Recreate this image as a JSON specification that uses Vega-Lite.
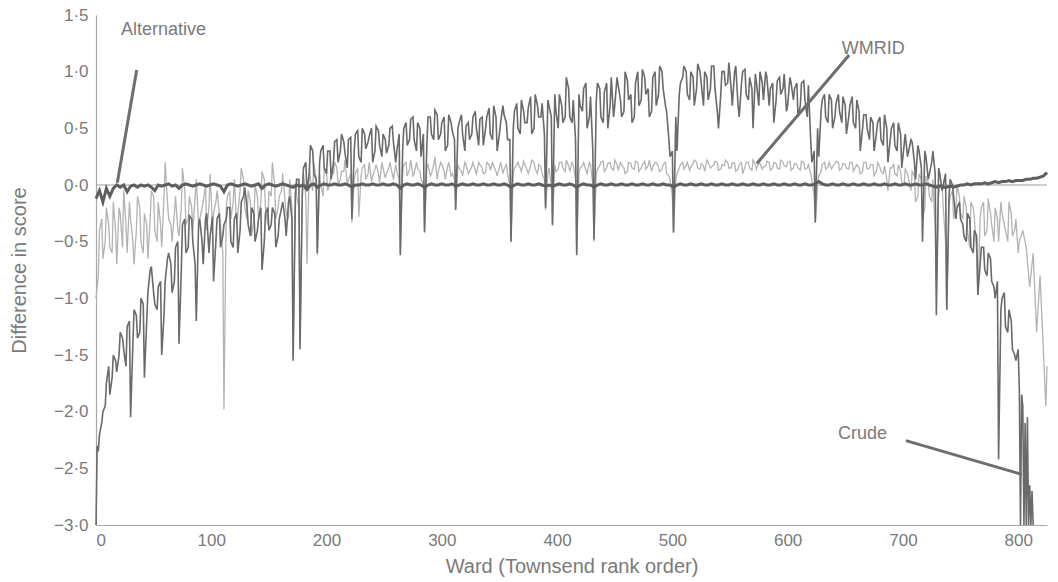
{
"$schema": "https://vega.github.io/schema/vega-lite/v6.json",
"width": 951, "height": 510,
"autosize": {"type": "none"},
"padding": {"left": 96, "top": 15, "right": 11, "bottom": 57},
"background": "white",
"config": {"view": {"stroke": null}, "font": "Liberation Sans",
 "axis": {"grid": false, "ticks": false, "domainColor": "#a8a8a8", "domainWidth": 1.2, "labelColor": "#7a7a7a", "labelFontSize": 17, "titleColor": "#7a7a7a", "titleFontSize": 20, "titleFontWeight": "normal", "labelFont": "Liberation Sans", "titleFont": "Liberation Sans"}},
"datasets": {
"series": [
{"w":0,"c":-3.0,"m":-1.0,"a":-0.12},{"w":1,"c":-2.3},
{"w":3,"c":-2.2,"m":-0.4,"a":-0.05},{"w":6,"c":-2.0,"m":-0.65,"a":-0.15},{"w":9,"c":-1.75,"m":-0.2,"a":-0.03},{"w":12,"c":-1.85,"m":-0.55,"a":-0.1},{"w":15,"c":-1.5,"m":-0.15,"a":-0.03},{"w":18,"c":-1.65,"m":-0.7,"a":0.0},{"w":21,"c":-1.3,"m":-0.25,"a":-0.02},{"w":24,"c":-1.45,"m":-0.05,"a":0.0},{"w":27,"c":-1.25,"m":-0.6,"a":-0.06},
{"w":30,"c":-2.05,"m":-0.3,"a":-0.01},{"w":33,"c":-1.1,"m":-0.7,"a":0.0},{"w":36,"c":-1.35,"m":-0.1,"a":-0.02},{"w":39,"c":-1.0,"m":-0.5,"a":0.0},{"w":42,"c":-1.7,"m":-0.25,"a":-0.01},{"w":45,"c":-0.95,"m":-0.65,"a":0.0},{"w":48,"c":-0.72,"m":-0.05,"a":-0.02},{"w":51,"c":-1.05,"m":-0.4,"a":-0.05},{"w":54,"c":-0.9,"m":-0.15,"a":0.0},{"w":57,"c":-1.5,"m":-0.55,"a":-0.01},
{"w":60,"c":-0.85,"m":0.2,"a":0.0},{"w":63,"c":-0.6,"m":-0.3,"a":0.01},{"w":66,"c":-0.95,"m":-0.5,"a":-0.01},{"w":69,"c":-0.55,"m":-0.1,"a":0.0},{"w":72,"c":-1.4,"m":-0.45,"a":-0.03},{"w":75,"c":-0.35,"m":0.15,"a":0.0},{"w":78,"c":-0.6,"m":-0.35,"a":0.01},{"w":81,"c":-0.27,"m":-0.1,"a":0.0},{"w":84,"c":-0.5,"m":-0.4,"a":-0.01},{"w":87,"c":-1.2,"m":0.05,"a":0.0},
{"w":90,"c":-0.3,"m":-0.3,"a":0.01},{"w":93,"c":-0.7,"m":-0.15,"a":0.0},{"w":96,"c":-0.25,"m":-0.4,"a":-0.01},{"w":99,"c":-0.45,"m":0.1,"a":0.0},{"w":102,"c":-0.85,"m":-0.25,"a":0.01},{"w":105,"c":-0.3,"m":-0.05,"a":0.0},{"w":108,"c":-0.55,"m":-0.35,"a":-0.01},{"w":111,"c":-0.35,"m":-1.98,"a":-0.06},{"w":114,"c":-0.2,"m":-0.1,"a":0.0},{"w":117,"c":-0.5,"m":-0.3,"a":0.01},
{"w":120,"c":-0.3,"m":0.05,"a":0.0},{"w":123,"c":-0.6,"m":-0.25,"a":-0.01},{"w":126,"c":-0.15,"m":0.15,"a":0.0},{"w":129,"c":-0.02,"m":-0.2,"a":0.01},{"w":132,"c":-0.35,"m":-0.05,"a":0.0},{"w":135,"c":-0.2,"m":-0.45,"a":-0.01},{"w":138,"c":-0.5,"m":0.0,"a":0.0},{"w":141,"c":-0.3,"m":-0.3,"a":0.01},{"w":144,"c":-0.75,"m":0.12,"a":-0.03},{"w":147,"c":-0.25,"m":-0.2,"a":0.0},
{"w":150,"c":-0.4,"m":-0.05,"a":0.01},{"w":153,"c":-0.2,"m":0.2,"a":0.0},{"w":156,"c":-0.55,"m":-0.3,"a":-0.01},{"w":159,"c":-0.3,"m":-0.1,"a":0.0},{"w":162,"c":-0.15,"m":0.1,"a":0.01},{"w":165,"c":-0.45,"m":-0.25,"a":0.0},{"w":168,"c":-0.1,"m":0.05,"a":-0.01},{"w":171,"c":-1.55,"m":-1.5,"a":-0.02},{"w":174,"c":0.05,"m":-0.1,"a":0.0},{"w":177,"c":-1.45,"m":-1.4,"a":-0.01},
{"w":180,"c":0.15,"m":0.1,"a":0.0},{"w":183,"c":-0.05,"m":-0.7,"a":-0.04},{"w":186,"c":0.35,"m":0.05,"a":0.0},{"w":189,"c":0.1,"m":0.2,"a":0.01},{"w":192,"c":-0.6,"m":-0.62,"a":-0.02},{"w":195,"c":0.3,"m":0.0,"a":0.0},{"w":198,"c":0.15,"m":0.15,"a":0.01},{"w":201,"c":0.3,"m":-0.05,"a":0.0},{"w":204,"c":0.05,"m":0.1,"a":0.0},{"w":207,"c":0.38,"m":0.2,"a":0.01},
{"w":210,"c":0.2,"m":0.0,"a":0.0},{"w":213,"c":0.45,"m":0.12,"a":0.0},{"w":216,"c":0.28,"m":0.22,"a":0.01},{"w":219,"c":0.4,"m":0.05,"a":0.0},{"w":222,"c":-0.3,"m":-0.33,"a":-0.02},{"w":225,"c":0.45,"m":0.1,"a":0.0},{"w":228,"c":0.25,"m":-0.28,"a":0.0},{"w":231,"c":0.5,"m":0.15,"a":0.01},{"w":234,"c":0.32,"m":0.05,"a":0.0},{"w":237,"c":0.43,"m":0.2,"a":0.0},
{"w":240,"c":0.2,"m":0.08,"a":0.01},{"w":243,"c":0.52,"m":0.18,"a":0.0},{"w":246,"c":0.35,"m":0.02,"a":0.0},{"w":249,"c":0.45,"m":0.15,"a":0.01},{"w":252,"c":0.28,"m":0.1,"a":0.0},{"w":255,"c":0.5,"m":0.2,"a":0.0},{"w":258,"c":0.38,"m":0.05,"a":0.01},{"w":261,"c":0.3,"m":0.12,"a":0.0},{"w":264,"c":-0.62,"m":-0.6,"a":-0.03},{"w":267,"c":0.5,"m":0.18,"a":0.0},
{"w":270,"c":0.35,"m":0.08,"a":0.01},{"w":273,"c":0.58,"m":0.22,"a":0.0},{"w":276,"c":0.4,"m":0.1,"a":0.0},{"w":279,"c":0.55,"m":0.15,"a":0.01},{"w":282,"c":0.25,"m":0.05,"a":0.0},{"w":285,"c":-0.42,"m":-0.4,"a":-0.02},{"w":288,"c":0.6,"m":0.18,"a":0.0},{"w":291,"c":0.45,"m":0.1,"a":0.01},{"w":294,"c":0.66,"m":0.25,"a":0.0},{"w":297,"c":0.4,"m":0.12,"a":0.0},
{"w":300,"c":0.55,"m":0.18,"a":0.01},{"w":303,"c":0.3,"m":0.05,"a":0.0},{"w":306,"c":0.62,"m":0.2,"a":0.0},{"w":309,"c":0.48,"m":0.1,"a":0.01},{"w":312,"c":-0.22,"m":-0.2,"a":-0.01},{"w":315,"c":0.55,"m":0.15,"a":0.0},{"w":318,"c":0.45,"m":0.08,"a":0.01},{"w":321,"c":0.52,"m":0.18,"a":0.0},{"w":324,"c":0.4,"m":0.12,"a":0.0},{"w":327,"c":0.6,"m":0.2,"a":0.01},
{"w":330,"c":0.5,"m":0.1,"a":0.0},{"w":333,"c":0.58,"m":0.18,"a":0.0},{"w":336,"c":0.35,"m":0.1,"a":0.01},{"w":339,"c":0.6,"m":0.2,"a":0.0},{"w":342,"c":0.45,"m":0.13,"a":0.0},{"w":345,"c":0.7,"m":0.17,"a":0.01},{"w":348,"c":0.3,"m":0.08,"a":0.0},{"w":351,"c":0.55,"m":0.2,"a":0.0},{"w":354,"c":0.62,"m":0.14,"a":0.01},{"w":357,"c":0.4,"m":0.1,"a":0.0},
{"w":360,"c":-0.5,"m":-0.5,"a":-0.02},{"w":363,"c":0.65,"m":0.15,"a":0.0},{"w":366,"c":0.5,"m":0.2,"a":0.01},{"w":369,"c":0.75,"m":0.12,"a":0.0},{"w":372,"c":0.55,"m":0.18,"a":0.0},{"w":375,"c":0.68,"m":0.1,"a":0.01},{"w":378,"c":0.45,"m":0.22,"a":0.0},{"w":381,"c":0.8,"m":0.14,"a":0.0},{"w":384,"c":0.6,"m":0.18,"a":0.01},{"w":387,"c":0.72,"m":0.1,"a":0.0},
{"w":390,"c":-0.2,"m":-0.22,"a":-0.01},{"w":393,"c":0.7,"m":0.15,"a":0.0},{"w":396,"c":-0.35,"m":-0.36,"a":-0.01},{"w":399,"c":0.65,"m":0.12,"a":0.0},{"w":402,"c":0.8,"m":0.2,"a":0.01},{"w":405,"c":0.55,"m":0.15,"a":0.0},{"w":408,"c":0.95,"m":0.22,"a":0.0},{"w":411,"c":0.6,"m":0.12,"a":0.01},{"w":414,"c":0.75,"m":0.18,"a":0.0},{"w":417,"c":-0.62,"m":-0.6,"a":-0.02},
{"w":420,"c":0.7,"m":0.15,"a":0.0},{"w":423,"c":0.85,"m":0.2,"a":0.01},{"w":426,"c":0.5,"m":0.1,"a":0.0},{"w":429,"c":0.78,"m":0.18,"a":0.0},{"w":432,"c":-0.48,"m":-0.5,"a":-0.02},{"w":435,"c":0.9,"m":0.14,"a":0.0},{"w":438,"c":0.6,"m":0.2,"a":0.01},{"w":441,"c":0.82,"m":0.12,"a":0.0},{"w":444,"c":0.5,"m":0.19,"a":0.0},{"w":447,"c":0.95,"m":0.15,"a":0.01},
{"w":450,"c":0.7,"m":0.22,"a":0.0},{"w":453,"c":0.88,"m":0.13,"a":0.0},{"w":456,"c":0.6,"m":0.18,"a":0.01},{"w":459,"c":1.0,"m":0.1,"a":0.0},{"w":462,"c":0.75,"m":0.2,"a":0.0},{"w":465,"c":0.55,"m":0.15,"a":0.01},{"w":468,"c":0.9,"m":0.21,"a":0.0},{"w":471,"c":0.7,"m":0.12,"a":0.0},{"w":474,"c":1.02,"m":0.18,"a":0.01},{"w":477,"c":0.8,"m":0.14,"a":0.0},
{"w":480,"c":0.6,"m":0.22,"a":0.0},{"w":483,"c":0.95,"m":0.16,"a":0.01},{"w":486,"c":0.7,"m":0.2,"a":0.0},{"w":489,"c":1.05,"m":0.12,"a":0.0},{"w":492,"c":0.85,"m":0.18,"a":0.01},{"w":495,"c":0.65,"m":0.1,"a":0.0},{"w":498,"c":0.25,"m":0.05,"a":0.0},{"w":501,"c":-0.42,"m":-0.42,"a":-0.02},{"w":504,"c":0.3,"m":0.1,"a":0.0},{"w":507,"c":0.9,"m":0.18,"a":0.01},
{"w":510,"c":1.05,"m":0.14,"a":0.0},{"w":513,"c":0.8,"m":0.2,"a":0.0},{"w":516,"c":1.0,"m":0.16,"a":0.01},{"w":519,"c":0.7,"m":0.22,"a":0.0},{"w":522,"c":1.07,"m":0.15,"a":0.0},{"w":525,"c":0.9,"m":0.19,"a":0.01},{"w":528,"c":1.0,"m":0.12,"a":0.0},{"w":531,"c":0.75,"m":0.2,"a":0.0},{"w":534,"c":1.05,"m":0.16,"a":0.01},{"w":537,"c":0.85,"m":0.21,"a":0.0},
{"w":540,"c":0.5,"m":0.13,"a":0.0},{"w":543,"c":1.0,"m":0.18,"a":0.01},{"w":546,"c":0.88,"m":0.22,"a":0.0},{"w":549,"c":1.08,"m":0.15,"a":0.0},{"w":552,"c":0.7,"m":0.2,"a":0.01},{"w":555,"c":1.05,"m":0.12,"a":0.0},{"w":558,"c":0.6,"m":0.18,"a":0.0},{"w":561,"c":1.0,"m":0.1,"a":0.01},{"w":564,"c":0.8,"m":0.2,"a":0.0},{"w":567,"c":0.95,"m":0.15,"a":0.0},
{"w":570,"c":0.5,"m":0.22,"a":0.01},{"w":573,"c":0.9,"m":0.14,"a":0.0},{"w":576,"c":1.0,"m":0.19,"a":0.0},{"w":579,"c":0.75,"m":0.16,"a":0.01},{"w":582,"c":0.95,"m":0.21,"a":0.0},{"w":585,"c":0.85,"m":0.13,"a":0.0},{"w":588,"c":0.55,"m":0.2,"a":0.01},{"w":591,"c":0.92,"m":0.15,"a":0.0},{"w":594,"c":0.8,"m":0.22,"a":0.0},{"w":597,"c":0.98,"m":0.17,"a":0.01},
{"w":600,"c":0.7,"m":0.2,"a":0.0},{"w":603,"c":0.9,"m":0.13,"a":0.0},{"w":606,"c":0.85,"m":0.19,"a":0.01},{"w":609,"c":0.6,"m":0.15,"a":0.0},{"w":612,"c":0.9,"m":0.21,"a":0.0},{"w":615,"c":0.75,"m":0.14,"a":0.01},{"w":618,"c":0.88,"m":0.18,"a":0.0},{"w":621,"c":0.2,"m":0.05,"a":0.0},{"w":624,"c":-0.33,"m":-0.33,"a":0.01},{"w":627,"c":0.25,"m":0.08,"a":0.03},
{"w":630,"c":0.75,"m":0.18,"a":0.01},{"w":633,"c":0.6,"m":0.14,"a":0.0},{"w":636,"c":0.8,"m":0.2,"a":0.0},{"w":639,"c":0.5,"m":0.16,"a":0.01},{"w":642,"c":0.72,"m":0.21,"a":0.0},{"w":645,"c":0.65,"m":0.13,"a":0.0},{"w":648,"c":0.78,"m":0.19,"a":0.01},{"w":651,"c":0.45,"m":0.15,"a":0.0},{"w":654,"c":0.7,"m":0.2,"a":0.0},{"w":657,"c":0.55,"m":0.12,"a":0.01},
{"w":660,"c":0.75,"m":0.18,"a":0.0},{"w":663,"c":0.3,"m":0.1,"a":0.0},{"w":666,"c":0.62,"m":0.2,"a":0.01},{"w":669,"c":0.5,"m":0.14,"a":0.0},{"w":672,"c":0.6,"m":0.18,"a":0.0},{"w":675,"c":0.3,"m":0.08,"a":0.01},{"w":678,"c":0.55,"m":0.2,"a":0.0},{"w":681,"c":0.4,"m":0.12,"a":0.0},{"w":684,"c":0.62,"m":0.17,"a":0.01},{"w":687,"c":0.2,"m":-0.05,"a":0.0},
{"w":690,"c":0.5,"m":0.15,"a":0.0},{"w":693,"c":0.35,"m":0.1,"a":0.01},{"w":696,"c":0.55,"m":0.18,"a":0.0},{"w":699,"c":0.15,"m":0.02,"a":0.0},{"w":702,"c":0.45,"m":0.14,"a":0.01},{"w":705,"c":0.3,"m":0.05,"a":0.0},{"w":708,"c":0.38,"m":0.12,"a":0.0},{"w":711,"c":0.05,"m":-0.15,"a":0.01},{"w":714,"c":0.3,"m":0.1,"a":0.0},{"w":717,"c":-0.5,"m":-0.3,"a":0.0},
{"w":720,"c":0.25,"m":0.08,"a":0.01},{"w":723,"c":0.1,"m":-0.1,"a":0.0},{"w":726,"c":0.3,"m":0.05,"a":-0.01},{"w":729,"c":-1.15,"m":-0.9,"a":-0.02},{"w":732,"c":0.1,"m":0.0,"a":-0.01},{"w":735,"c":0.0,"m":-0.2,"a":-0.02},{"w":738,"c":-1.1,"m":-1.1,"a":-0.02},{"w":741,"c":0.05,"m":-0.1,"a":-0.01},{"w":744,"c":-0.1,"m":-0.3,"a":-0.02},{"w":747,"c":-0.2,"m":0.0,"a":-0.01},
{"w":750,"c":-0.3,"m":-0.25,"a":0.0},{"w":753,"c":-0.45,"m":-0.1,"a":0.0},{"w":756,"c":-0.25,"m":-0.4,"a":0.01},{"w":759,"c":-0.55,"m":-0.15,"a":0.0},{"w":762,"c":-0.4,"m":-0.3,"a":0.01},{"w":765,"c":-0.97,"m":-0.97,"a":0.01},{"w":768,"c":-0.55,"m":-0.2,"a":0.01},{"w":771,"c":-0.75,"m":-0.45,"a":0.02},{"w":774,"c":-0.6,"m":-0.12,"a":0.01},{"w":777,"c":-0.85,"m":-0.35,"a":0.02},
{"w":780,"c":-1.0,"m":-0.2,"a":0.03},{"w":783,"c":-2.42,"m":-0.5,"a":0.02},{"w":786,"c":-1.0,"m":-0.25,"a":0.03},{"w":789,"c":-1.25,"m":-0.4,"a":0.03},{"w":792,"c":-1.1,"m":-0.15,"a":0.04},{"w":795,"c":-1.45,"m":-0.45,"a":0.03},{"w":798,"c":-1.55,"m":-0.3,"a":0.04},{"w":801,"c":-1.8,"m":-0.5,"a":0.04},
{"w":802,"c":-3.0},{"w":803,"c":-1.85},{"w":804,"c":-1.95,"m":-0.4,"a":0.04},{"w":805,"c":-3.0},{"w":806,"c":-2.1},{"w":807,"c":-3.0,"m":-0.55,"a":0.05},{"w":808,"c":-2.05},{"w":809,"c":-3.0},{"w":810,"c":-2.65,"m":-0.9,"a":0.05},{"w":811,"c":-3.0},{"w":812,"c":-2.7},
{"w":813,"c":-3.0,"m":-0.6,"a":0.06},{"w":816,"m":-1.3,"a":0.06},{"w":819,"m":-0.8,"a":0.07},{"w":822,"m":-1.5,"a":0.08},{"w":824,"m":-1.95},{"w":825,"m":-1.6,"a":0.11},
{"w":2,"c":-2.35,"m":-0.8},{"w":5,"c":-2.1,"m":-0.3},{"w":8,"c":-1.95,"m":-0.5},{"w":11,"c":-1.6,"m":-0.35},{"w":14,"c":-1.7,"m":-0.6},{"w":17,"c":-1.55,"m":-0.4},{"w":20,"c":-1.5,"m":-0.2},{"w":23,"c":-1.35,"m":-0.55},{"w":26,"c":-1.6,"m":-0.35},{"w":29,"c":-1.2,"m":-0.15},
{"w":32,"c":-1.4,"m":-0.5},{"w":35,"c":-1.15,"m":-0.4},{"w":38,"c":-1.3,"m":-0.2},{"w":41,"c":-1.05,"m":-0.6},{"w":44,"c":-1.2,"m":-0.35},{"w":47,"c":-0.75,"m":-0.3},{"w":50,"c":-0.95,"m":-0.1},{"w":53,"c":-1.1,"m":-0.5},{"w":56,"c":-0.85,"m":-0.35},{"w":59,"c":-1.15,"m":-0.1},
{"w":62,"c":-0.65,"m":-0.15},{"w":65,"c":-0.7,"m":-0.35},{"w":68,"c":-0.85,"m":-0.25},{"w":71,"c":-0.5,"m":-0.4},{"w":74,"c":-0.75,"m":-0.2},{"w":77,"c":-0.3,"m":-0.05},{"w":80,"c":-0.55,"m":-0.3},{"w":83,"c":-0.3,"m":-0.2},{"w":86,"c":-0.7,"m":-0.1},{"w":89,"c":-0.35,"m":-0.35},
{"w":92,"c":-0.5,"m":-0.2},{"w":95,"c":-0.3,"m":0.0},{"w":98,"c":-0.6,"m":-0.2},{"w":101,"c":-0.28,"m":-0.35},{"w":104,"c":-0.5,"m":-0.15},{"w":107,"c":-0.25,"m":-0.25},{"w":110,"c":-0.45,"m":-0.6},{"w":113,"c":-0.3,"m":-0.2},{"w":116,"c":-0.2,"m":-0.05},{"w":119,"c":-0.55,"m":-0.15},
{"w":122,"c":-0.25,"m":-0.35},{"w":125,"c":-0.4,"m":-0.05},{"w":128,"c":-0.1,"m":0.05},{"w":131,"c":-0.2,"m":-0.3},{"w":134,"c":-0.45,"m":-0.15},{"w":137,"c":-0.25,"m":-0.3},{"w":140,"c":-0.4,"m":-0.1},{"w":143,"c":-0.2,"m":-0.15},{"w":146,"c":-0.5,"m":0.05},{"w":149,"c":-0.2,"m":-0.35},
{"w":152,"c":-0.35,"m":-0.1},{"w":155,"c":-0.25,"m":0.0},{"w":158,"c":-0.45,"m":-0.2},{"w":161,"c":-0.2,"m":-0.05},{"w":164,"c":-0.3,"m":-0.15},{"w":167,"c":-0.15,"m":-0.3},{"w":170,"c":-0.3,"m":-0.2},{"w":173,"c":-0.1,"m":0.0},{"w":176,"c":0.05,"m":-0.2},{"w":179,"c":-0.05,"m":-0.1},
{"w":182,"c":0.2,"m":-0.1},{"w":185,"c":0.1,"m":0.15},{"w":188,"c":0.3,"m":-0.05},{"w":191,"c":0.05,"m":0.05},{"w":194,"c":0.2,"m":0.1},{"w":197,"c":0.35,"m":-0.1},{"w":200,"c":0.1,"m":0.12},{"w":203,"c":0.3,"m":0.02},{"w":206,"c":0.2,"m":0.1},{"w":209,"c":0.4,"m":0.15},
{"w":212,"c":0.3,"m":0.05},{"w":215,"c":0.38,"m":0.12},{"w":218,"c":0.15,"m":0.0},{"w":221,"c":0.42,"m":0.1},{"w":224,"c":0.3,"m":0.05},{"w":227,"c":0.48,"m":0.15},{"w":230,"c":0.2,"m":0.08},{"w":233,"c":0.45,"m":0.18},{"w":236,"c":0.38,"m":0.1},{"w":239,"c":0.5,"m":0.03},
{"w":242,"c":0.3,"m":0.14},{"w":245,"c":0.48,"m":0.1},{"w":248,"c":0.25,"m":0.2},{"w":251,"c":0.4,"m":0.06},{"w":254,"c":0.35,"m":0.15},{"w":257,"c":0.52,"m":0.1},{"w":260,"c":0.2,"m":0.18},{"w":263,"c":0.45,"m":0.05},{"w":266,"c":0.3,"m":0.1},{"w":269,"c":0.55,"m":0.2},
{"w":272,"c":0.4,"m":0.14},{"w":275,"c":0.6,"m":0.08},{"w":278,"c":0.3,"m":0.2},{"w":281,"c":0.5,"m":0.12},{"w":284,"c":0.45,"m":0.0},{"w":287,"c":0.35,"m":0.15},{"w":290,"c":0.6,"m":0.08},{"w":293,"c":0.4,"m":0.18},{"w":296,"c":0.62,"m":0.05},{"w":299,"c":0.45,"m":0.2},
{"w":302,"c":0.6,"m":0.12},{"w":305,"c":0.35,"m":0.16},{"w":308,"c":0.55,"m":0.08},{"w":311,"c":0.4,"m":0.05},{"w":314,"c":0.5,"m":0.18},{"w":317,"c":0.62,"m":0.12},{"w":320,"c":0.3,"m":0.2},{"w":323,"c":0.55,"m":0.1},{"w":326,"c":0.45,"m":0.16},{"w":329,"c":0.65,"m":0.13},
{"w":332,"c":0.35,"m":0.2},{"w":335,"c":0.6,"m":0.15},{"w":338,"c":0.5,"m":0.11},{"w":341,"c":0.68,"m":0.18},{"w":344,"c":0.4,"m":0.2},{"w":347,"c":0.6,"m":0.12},{"w":350,"c":0.45,"m":0.16},{"w":353,"c":0.7,"m":0.1},{"w":356,"c":0.55,"m":0.18},{"w":359,"c":0.4,"m":0.0},
{"w":362,"c":0.5,"m":0.1},{"w":365,"c":0.72,"m":0.18},{"w":368,"c":0.45,"m":0.15},{"w":371,"c":0.65,"m":0.21},{"w":374,"c":0.55,"m":0.13},{"w":377,"c":0.78,"m":0.17},{"w":380,"c":0.5,"m":0.2},{"w":383,"c":0.7,"m":0.1},{"w":386,"c":0.6,"m":0.16},{"w":389,"c":0.45,"m":0.05},
{"w":392,"c":0.75,"m":0.1},{"w":395,"c":0.6,"m":0.0},{"w":398,"c":0.8,"m":0.18},{"w":401,"c":0.5,"m":0.14},{"w":404,"c":0.7,"m":0.2},{"w":407,"c":0.6,"m":0.12},{"w":410,"c":0.85,"m":0.17},{"w":413,"c":0.55,"m":0.2},{"w":416,"c":0.4,"m":0.05},{"w":419,"c":0.8,"m":0.1},
{"w":422,"c":0.65,"m":0.17},{"w":425,"c":0.9,"m":0.13},{"w":428,"c":0.6,"m":0.2},{"w":431,"c":0.3,"m":0.0},{"w":434,"c":0.75,"m":0.1},{"w":437,"c":0.85,"m":0.17},{"w":440,"c":0.55,"m":0.21},{"w":443,"c":0.9,"m":0.15},{"w":446,"c":0.7,"m":0.2},{"w":449,"c":0.6,"m":0.13},
{"w":452,"c":0.95,"m":0.18},{"w":455,"c":0.75,"m":0.2},{"w":458,"c":0.65,"m":0.15},{"w":461,"c":0.92,"m":0.12},{"w":464,"c":0.8,"m":0.19},{"w":467,"c":0.6,"m":0.14},{"w":470,"c":1.0,"m":0.2},{"w":473,"c":0.75,"m":0.15},{"w":476,"c":0.95,"m":0.21},{"w":479,"c":0.85,"m":0.17},
{"w":482,"c":0.65,"m":0.12},{"w":485,"c":1.0,"m":0.2},{"w":488,"c":0.8,"m":0.16},{"w":491,"c":1.0,"m":0.14},{"w":494,"c":0.7,"m":0.2},{"w":497,"c":0.4,"m":0.08},{"w":500,"c":0.3,"m":-0.1},{"w":503,"c":0.6,"m":0.05},{"w":506,"c":0.8,"m":0.15},{"w":509,"c":0.95,"m":0.2},
{"w":512,"c":1.0,"m":0.17},{"w":515,"c":0.75,"m":0.13},{"w":518,"c":0.95,"m":0.19},{"w":521,"c":0.85,"m":0.2},{"w":524,"c":1.0,"m":0.14},{"w":527,"c":0.7,"m":0.17},{"w":530,"c":0.95,"m":0.22},{"w":533,"c":0.85,"m":0.15},{"w":536,"c":1.05,"m":0.18},{"w":539,"c":0.65,"m":0.2},
{"w":542,"c":0.8,"m":0.14},{"w":545,"c":1.0,"m":0.17},{"w":548,"c":0.9,"m":0.2},{"w":551,"c":0.85,"m":0.15},{"w":554,"c":1.0,"m":0.19},{"w":557,"c":0.7,"m":0.14},{"w":560,"c":0.9,"m":0.2},{"w":563,"c":1.02,"m":0.16},{"w":566,"c":0.75,"m":0.2},{"w":569,"c":0.85,"m":0.13},
{"w":572,"c":0.98,"m":0.18},{"w":575,"c":0.7,"m":0.2},{"w":578,"c":0.9,"m":0.14},{"w":581,"c":1.0,"m":0.17},{"w":584,"c":0.7,"m":0.2},{"w":587,"c":0.9,"m":0.15},{"w":590,"c":0.75,"m":0.19},{"w":593,"c":0.95,"m":0.14},{"w":596,"c":0.85,"m":0.2},{"w":599,"c":0.65,"m":0.16},
{"w":602,"c":0.95,"m":0.21},{"w":605,"c":0.75,"m":0.15},{"w":608,"c":0.9,"m":0.18},{"w":611,"c":0.7,"m":0.13},{"w":614,"c":0.92,"m":0.2},{"w":617,"c":0.6,"m":0.15},{"w":620,"c":0.4,"m":0.1},{"w":623,"c":0.3,"m":-0.1},{"w":626,"c":0.5,"m":0.0},{"w":629,"c":0.65,"m":0.12},
{"w":632,"c":0.8,"m":0.2},{"w":635,"c":0.55,"m":0.16},{"w":638,"c":0.75,"m":0.14},{"w":641,"c":0.6,"m":0.19},{"w":644,"c":0.8,"m":0.2},{"w":647,"c":0.55,"m":0.15},{"w":650,"c":0.7,"m":0.18},{"w":653,"c":0.6,"m":0.14},{"w":656,"c":0.78,"m":0.2},{"w":659,"c":0.5,"m":0.16},
{"w":662,"c":0.65,"m":0.15},{"w":665,"c":0.5,"m":0.12},{"w":668,"c":0.62,"m":0.2},{"w":671,"c":0.4,"m":0.15},{"w":674,"c":0.55,"m":0.18},{"w":677,"c":0.45,"m":0.12},{"w":680,"c":0.6,"m":0.16},{"w":683,"c":0.35,"m":0.1},{"w":686,"c":0.5,"m":0.05},{"w":689,"c":0.4,"m":0.15},
{"w":692,"c":0.55,"m":0.18},{"w":695,"c":0.3,"m":0.08},{"w":698,"c":0.45,"m":0.12},{"w":701,"c":0.35,"m":0.0},{"w":704,"c":0.25,"m":0.1},{"w":707,"c":0.4,"m":-0.05},{"w":710,"c":0.2,"m":0.08},{"w":713,"c":0.35,"m":-0.1},{"w":716,"c":0.15,"m":0.05},{"w":719,"c":0.3,"m":-0.2},
{"w":722,"c":0.05,"m":0.02},{"w":725,"c":0.2,"m":-0.15},{"w":728,"c":0.1,"m":-0.4},{"w":731,"c":0.15,"m":-0.1},{"w":734,"c":-0.05,"m":0.0},{"w":737,"c":0.1,"m":-0.5},{"w":740,"c":-0.1,"m":-0.2},{"w":743,"c":0.0,"m":-0.05},{"w":746,"c":-0.3,"m":-0.2},{"w":749,"c":-0.15,"m":-0.1},
{"w":752,"c":-0.35,"m":-0.3},{"w":755,"c":-0.5,"m":-0.2},{"w":758,"c":-0.3,"m":-0.55},{"w":761,"c":-0.6,"m":-0.2},{"w":764,"c":-0.45,"m":-0.6},{"w":767,"c":-0.7,"m":-0.3},{"w":770,"c":-0.55,"m":-0.15},{"w":773,"c":-0.8,"m":-0.4},{"w":776,"c":-0.65,"m":-0.25},{"w":779,"c":-0.9,"m":-0.5},
{"w":782,"c":-0.85,"m":-0.3},{"w":785,"c":-1.1,"m":-0.15},{"w":788,"c":-0.95,"m":-0.35},{"w":791,"c":-1.3,"m":-0.5},{"w":794,"c":-1.2,"m":-0.25},{"w":797,"c":-1.5,"m":-0.4},{"w":800,"c":-1.45,"m":-0.6}
],
"labels": [
{"t":"Alternative","x":58.6,"y":1.368},
{"t":"WMRID","x":674.2,"y":1.204},
{"t":"Crude","x":665,"y":-2.2}
],
"pointers": [
{"x":35.3,"y":1.015,"x2":18.5,"y2":0.02},
{"x":653.4,"y":1.147,"x2":573.3,"y2":0.19},
{"x":702.6,"y":-2.256,"x2":803.2,"y2":-2.553}
]
},
"layer": [
{"data": {"values": [{"z": 0}]},
 "mark": {"type": "rule", "color": "#9a9a9a", "strokeWidth": 1},
 "encoding": {"y": {"field": "z", "type": "quantitative", "scale": {"domain": [-3, 1.5], "nice": false}, "title": "Difference in score"}}},
{"data": {"name": "series"},
 "transform": [{"filter": "isValid(datum.m)"}],
 "mark": {"type": "line", "color": "#b3b3b3", "strokeWidth": 1.3},
 "encoding": {
  "x": {"field": "w", "type": "quantitative", "scale": {"domain": [0, 825], "nice": false, "zero": false}, "title": "Ward (Townsend rank order)",
   "axis": {"values": [0,100,200,300,400,500,600,700,800], "labelPadding": 7, "titlePadding": 8}},
  "y": {"field": "m", "type": "quantitative", "scale": {"domain": [-3, 1.5], "nice": false}, "title": "Difference in score",
   "axis": {"values": [-3,-2.5,-2,-1.5,-1,-0.5,0,0.5,1,1.5], "format": ".1f", "labelExpr": "replace(datum.label, '.', '·')", "labelPadding": 8, "titlePadding": 24}}}},
{"data": {"name": "series"},
 "transform": [{"filter": "isValid(datum.c)"}],
 "mark": {"type": "line", "color": "#6a6a6a", "strokeWidth": 1.6},
 "encoding": {
  "x": {"field": "w", "type": "quantitative", "title": "Ward (Townsend rank order)"},
  "y": {"field": "c", "type": "quantitative", "title": "Difference in score"}}},
{"data": {"name": "series"},
 "transform": [{"filter": "isValid(datum.a)"}],
 "mark": {"type": "line", "color": "#5e5e5e", "strokeWidth": 3},
 "encoding": {
  "x": {"field": "w", "type": "quantitative", "title": "Ward (Townsend rank order)"},
  "y": {"field": "a", "type": "quantitative", "title": "Difference in score"}}},
{"data": {"name": "pointers"},
 "mark": {"type": "rule", "color": "#6e6e6e", "strokeWidth": 3},
 "encoding": {
  "x": {"field": "x", "type": "quantitative", "title": "Ward (Townsend rank order)"},
  "y": {"field": "y", "type": "quantitative", "title": "Difference in score"},
  "x2": {"field": "x2"}, "y2": {"field": "y2"}}},
{"data": {"name": "labels"},
 "mark": {"type": "text", "fontSize": 18, "color": "#7a7a7a", "font": "Liberation Sans", "align": "center", "baseline": "middle"},
 "encoding": {
  "x": {"field": "x", "type": "quantitative", "title": "Ward (Townsend rank order)"},
  "y": {"field": "y", "type": "quantitative", "title": "Difference in score"},
  "text": {"field": "t"}}}
]
}
